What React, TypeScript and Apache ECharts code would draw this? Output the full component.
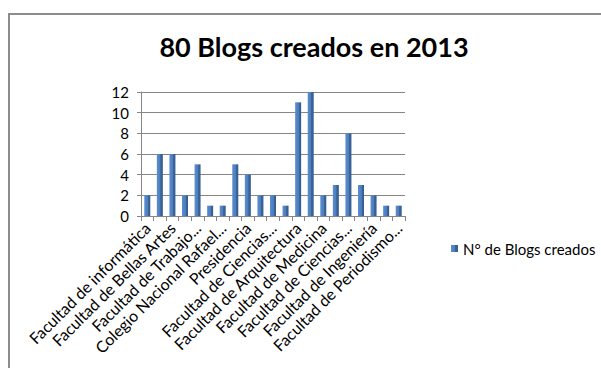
import React, { useEffect, useRef } from "react";
import * as echarts from "echarts";

const titleText = "80 Blogs creados en 2013";
const seriesName = "N° de Blogs creados";
const categories = [
  "Facultad de informática",
  "Facultad de Humanidades",
  "Facultad de Bellas Artes",
  "Facultad de Odontología",
  "Facultad de Trabajo...",
  "Liceo Víctor Mercante",
  "Colegio Nacional Rafael...",
  "Facultad de Psicología",
  "Presidencia",
  "Facultad de Ciencias Agrarias",
  "Facultad de Ciencias...",
  "Facultad de Ciencias Exactas",
  "Facultad de Arquitectura",
  "Facultad de Ciencias Jurídicas",
  "Facultad de Medicina",
  "Facultad de Ciencias Veterinarias",
  "Facultad de Ciencias...",
  "Facultad de Ciencias Astronómicas",
  "Facultad de Ingeniería",
  "Bachillerato de Bellas Artes",
  "Facultad de Periodismo...",
];
const values = [2, 6, 6, 2, 5, 1, 1, 5, 4, 2, 2, 1, 11, 12, 2, 3, 8, 3, 2, 1, 1];
const yTicks = { min: 0, max: 12, interval: 2 };

const FONT = "Lato, 'Open Sans', sans-serif";

export default function App() {
  const ref = useRef<HTMLDivElement>(null);
  useEffect(() => {
    if (!ref.current) return;
    const chart = echarts.init(ref.current, null, { renderer: "svg" });
    chart.setOption({
      animation: false,
      backgroundColor: "#ffffff",
      textStyle: { fontFamily: FONT },
      title: {
        text: titleText,
        left: 309,
        top: 28,
        textAlign: "center",
        textStyle: { fontFamily: FONT, fontSize: 27, fontWeight: "bold", color: "#000" },
      },
      legend: {
        left: 446,
        top: 236,
        itemWidth: 7,
        itemHeight: 7,
        itemGap: 4,
        icon: "rect",
        textStyle: { fontFamily: FONT, fontSize: 15, color: "#000" },
        data: [seriesName],
      },
      graphic: [
        {
          type: "rect",
          shape: { x: 9, y: 14, width: 800, height: 600 },
          style: { fill: "none", stroke: "#8c8c8c", lineWidth: 2 },
          silent: true,
        },
      ],
      grid: { left: 141, right: 196, top: 92, bottom: 152, containLabel: false },
      xAxis: {
        type: "category",
        data: categories,
        axisLine: { lineStyle: { color: "#868686" } },
        axisTick: { show: true, alignWithLabel: false, interval: 0, length: 5, lineStyle: { color: "#868686" } },
        axisLabel: {
          interval: 1,
          rotate: 45,
          margin: 9,
          fontFamily: FONT,
          fontSize: 16,
          color: "#000",
        },
      },
      yAxis: {
        type: "value",
        min: yTicks.min,
        max: yTicks.max,
        interval: yTicks.interval,
        axisLine: { show: true, lineStyle: { color: "#868686" } },
        axisTick: { show: true, length: 4, lineStyle: { color: "#868686" } },
        axisLabel: { fontFamily: FONT, fontSize: 15, color: "#000", margin: 12 },
        splitLine: { show: true, lineStyle: { color: "#868686", width: 1 } },
      },
      series: [
        {
          name: seriesName,
          type: "bar",
          data: values,
          barWidth: 6,
          itemStyle: {
            color: new echarts.graphic.LinearGradient(0, 0, 1, 0, [
              { offset: 0, color: "#5a8cd0" },
              { offset: 0.6, color: "#4a7ebb" },
              { offset: 0.61, color: "#3b659a" },
              { offset: 1, color: "#365d8f" },
            ]),
          },
        },
      ],
    });
    return () => chart.dispose();
  }, []);
  return (
    <div
      ref={ref}
      style={{ position: "fixed", left: 0, top: 0, width: 601, height: 368 }}
    />
  );
}
